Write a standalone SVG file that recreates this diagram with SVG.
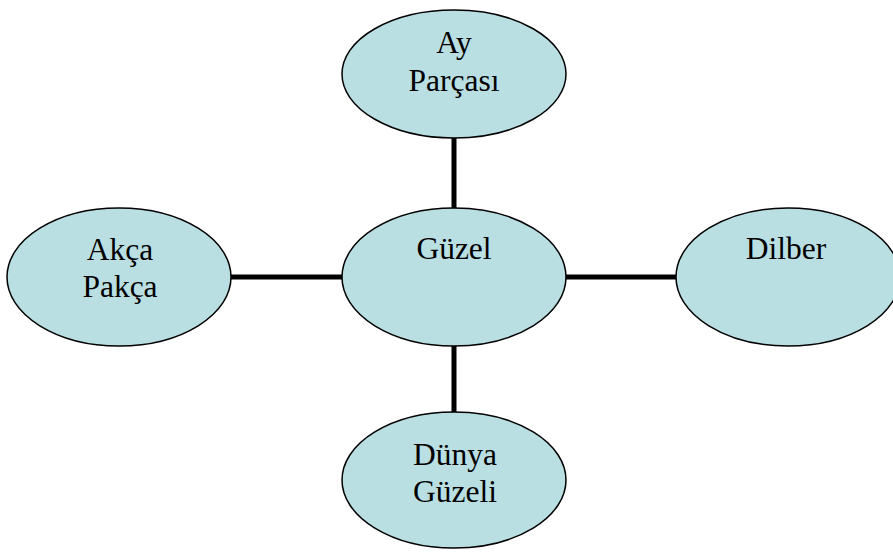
<svg xmlns="http://www.w3.org/2000/svg" width="893" height="556" viewBox="0 0 893 556">
<style>
.n{fill:#badfe3;stroke:#000;stroke-width:1.5}
.t{font-family:"Liberation Serif",serif;font-size:31.5px;fill:#000;text-anchor:middle}
.c{stroke:#000;stroke-width:5;fill:none}
</style>
<rect width="893" height="556" fill="#fff"/>
<g id="connectors">
<line class="c" x1="454" y1="138" x2="454" y2="208"/>
<line class="c" x1="454" y1="346" x2="454" y2="412"/>
<line class="c" x1="231" y1="277" x2="342" y2="277"/>
<line class="c" x1="565" y1="277" x2="676" y2="277"/>
</g>
<g id="ay-parcasi">
<ellipse class="n" cx="454" cy="74" rx="112" ry="64"/>
<text class="t" x="454" y="53">Ay</text>
<text class="t" x="454" y="91">Parçası</text>
</g>
<g id="guzel">
<ellipse class="n" cx="454" cy="277" rx="112" ry="69"/>
<text class="t" x="454" y="259">Güzel</text>
</g>
<g id="akca-pakca">
<ellipse class="n" cx="119" cy="277" rx="112" ry="69"/>
<text class="t" x="120" y="260">Akça</text>
<text class="t" x="120" y="297">Pakça</text>
</g>
<g id="dilber">
<ellipse class="n" cx="788" cy="277" rx="112" ry="69"/>
<text class="t" x="786" y="259">Dilber</text>
</g>
<g id="dunya-guzeli">
<ellipse class="n" cx="454" cy="480" rx="112" ry="68"/>
<text class="t" x="455" y="465">Dünya</text>
<text class="t" x="455" y="502">Güzeli</text>
</g>
</svg>
